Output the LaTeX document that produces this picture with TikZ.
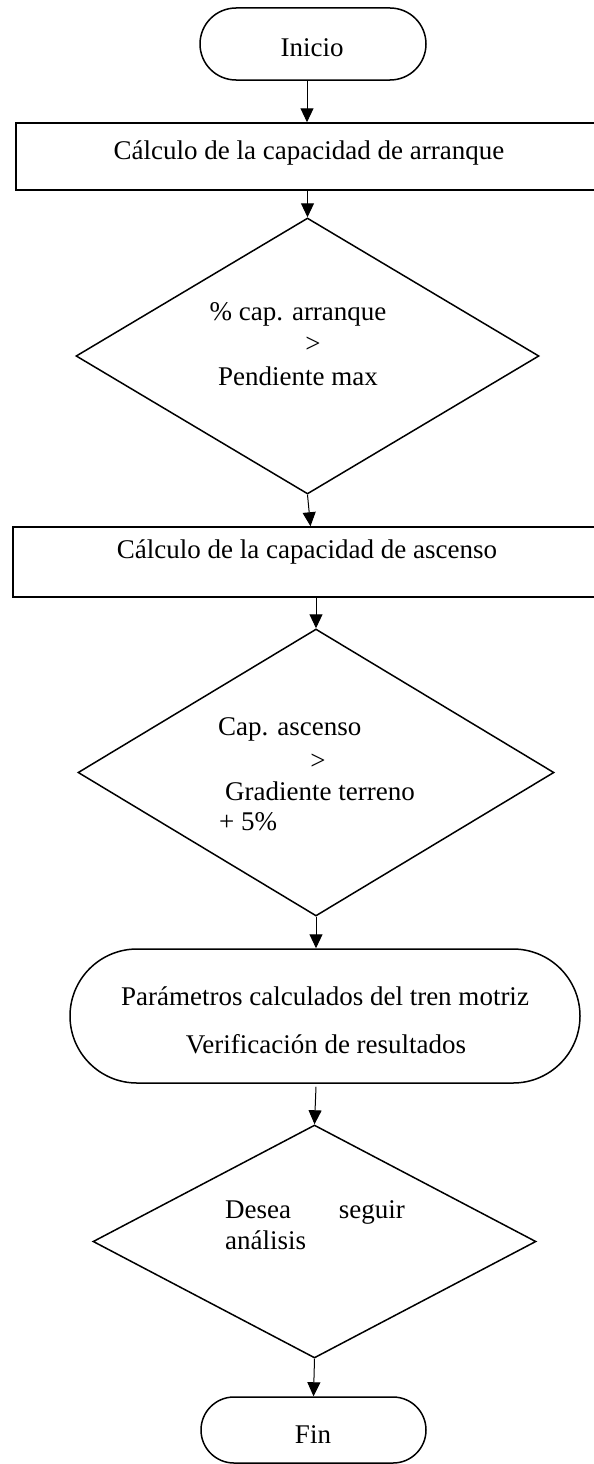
\documentclass[tikz,border=0pt]{standalone}
\usepackage{fontspec}
\setmainfont{Liberation Serif}
\usetikzlibrary{arrows.meta,shapes.geometric,calc}
\begin{document}
\begin{tikzpicture}[x=1pt,y=-1pt,
  shp/.style={draw=black,line width=1.5pt,inner sep=0pt,fill=none},
  lbl/.style={font=\fontsize{27}{31}\selectfont,inner sep=0pt,anchor=base,text=black},
  arr/.style={draw=black,line width=1pt,-{Triangle[width=13pt,length=14pt]}}]
\useasboundingbox[fill=white] (0,0) rectangle (594,1464);
% shapes
\node[shp,rounded corners=36pt,minimum width=226pt,minimum height=72pt] (inicio) at (313,44) {};
\node[shp,minimum width=604pt,minimum height=67pt] (r1) at (318,156.5) {};
\node[shp,diamond,minimum width=463pt,minimum height=276pt] (d1) at (307.5,356) {};
\node[shp,minimum width=607pt,minimum height=70pt] (r2) at (316.5,562) {};
\node[shp,diamond,minimum width=476pt,minimum height=287pt] (d2) at (316,772.5) {};
\node[shp,rounded corners=67pt,minimum width=510pt,minimum height=134pt] (rr) at (325,1016) {};
\node[shp,diamond,minimum width=443pt,minimum height=233pt] (d3) at (314.5,1241.5) {};
\node[shp,rounded corners=33pt,minimum width=225pt,minimum height=66pt] (fin) at (313.5,1430) {};
% texts
\node[lbl] (tinicio) at (312,57) {Inicio};
\node[lbl] (tr1) at (309,159) {Cálculo de la capacidad de arranque};
\node[lbl] (td1a) at (298,320) {\% cap. arranque};
\node[lbl] (td1b) at (313,352) {>};
\node[lbl] (td1c) at (298,385) {Pendiente max};
\node[lbl] (tr2) at (307,558) {Cálculo de la capacidad de ascenso};
\node[lbl,anchor=base west] (td2a) at (218,735) {Cap. ascenso};
\node[lbl] (td2b) at (318,769) {>};
\node[lbl,anchor=base west] (td2c) at (225,800) {Gradiente terreno};
\node[lbl,anchor=base west] (td2d) at (219,830) {+ 5\%};
\node[lbl] (trra) at (325,1005) {Parámetros calculados del tren motriz};
\node[lbl] (trrb) at (326,1053) {Verificación de resultados};
\node[lbl,anchor=base west] (td3a) at (225,1218) {Desea};
\node[lbl,anchor=base east] (td3b) at (405,1218) {seguir};
\node[lbl,anchor=base west] (td3c) at (225,1249) {análisis};
\node[lbl] (tfin) at (313,1443) {Fin};
% connectors
\draw[arr] ([xshift=-6pt]inicio.south) -- ([xshift=-6pt]inicio.south |- r1.north);
\draw[arr] (d1.north |- r1.south) -- (d1.north);
\draw[arr] (d1.south) -- ([xshift=3pt]d1.south |- r2.north);
\draw[arr] (d2.north |- r2.south) -- (d2.north);
\draw[arr] (d2.south) -- (d2.south |- rr.north);
\draw[arr] ([xshift=1.5pt,yshift=-3pt]d3.north |- rr.south) -- (d3.north);
\draw[arr] (d3.south) -- (fin.north);
\end{tikzpicture}
\end{document}
